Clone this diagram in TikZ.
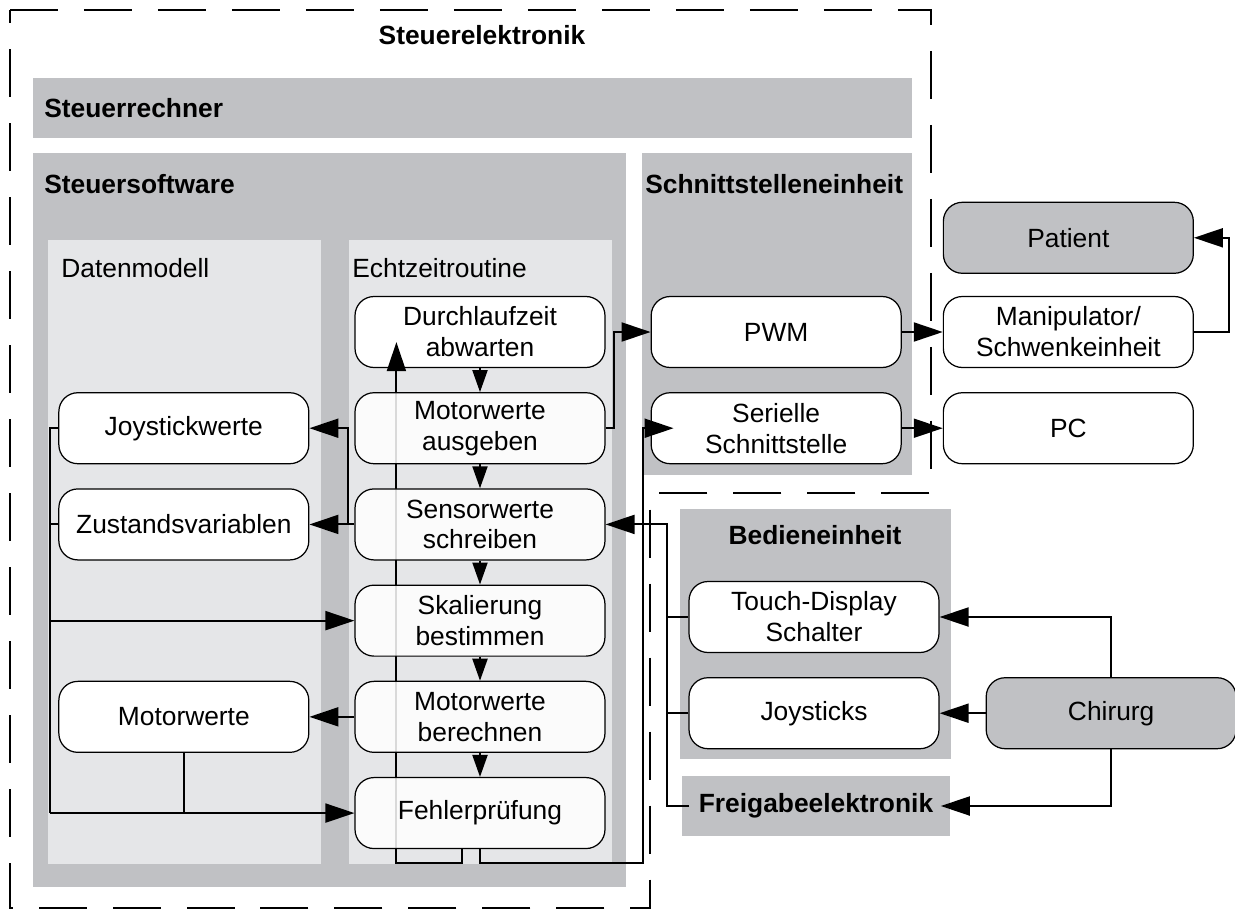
\documentclass[tikz,border=0pt]{standalone}
\usepackage{fontspec}
\setmainfont{Liberation Sans}
\usetikzlibrary{positioning,arrows.meta}

\definecolor{blockgray}{RGB}{192,193,196}
\definecolor{panelgray}{RGB}{229,230,232}

\pgfdeclarelayer{back}
\pgfdeclarelayer{wires}
\pgfsetlayers{back,wires,main}

\tikzset{
    block/.style={%
        draw, rounded corners=3.8mm,
        fill=white, line width=0.7pt,
        minimum width=5cm, minimum height=1.42cm,
        inner sep=2pt, align=center,
        font=\fontsize{15}{17.6}\selectfont
        },
    seethrough/.style={fill opacity=0.85, text opacity=1},
    heading/.style={inner sep=0pt, font=\fontsize{15}{17.6}\selectfont\bfseries},
    subheading/.style={inner sep=0pt, font=\fontsize{15}{17.6}\selectfont},
    wire/.style={line width=1.15pt},
    short/.style={-{Triangle[length=4.4mm,width=3mm]}},
    frame/.style={line width=1.5pt, dash pattern=on 9.6mm off 5.2mm},
    >={Triangle[length=5.8mm,width=3.8mm]}
}

\begin{document}
\begin{tikzpicture}[x=0.02cm, y=-0.02cm]

\useasboundingbox (0,0) rectangle (1235,910);

\begin{pgfonlayer}{back}
\fill[blockgray] (33,78) rectangle (912,138);
\fill[blockgray] (33,153) rectangle (626,887);
\fill[blockgray] (642,153) rectangle (912,475);
\fill[panelgray] (48,240) rectangle (321,864);
\fill[panelgray] (349,240) rectangle (612,864);
\fill[blockgray] (680,509) rectangle (951,759);
\end{pgfonlayer}

\node[heading] (elektronik) at (482,35) {Steuerelektronik};
\node[heading, anchor=west] (rechner) at (44,108) {Steuerrechner};
\node[heading, anchor=west] (software) at (44,184) {Steuersoftware};
\node[heading, anchor=west] (schnittstelle) at (645,184) {Schnittstelleneinheit};
\node[subheading, anchor=west] (datenmodell) at (61,268) {Datenmodell};
\node[subheading, anchor=west] (echtzeit) at (352,268) {Echtzeitroutine};
\node[heading] (bedien) at (815,535) {Bedieneinheit};

\node[block] (durch) at (480,332) {Durchlaufzeit\\abwarten};

\node[block, seethrough, below=4.8mm of durch] (ausgeben) {Motorwerte\\ausgeben};

\node[block, seethrough, below=4.8mm of ausgeben] (sensor) {Sensorwerte\\schreiben};

\node[block, seethrough, below=4.8mm of sensor] (skal) {Skalierung\\bestimmen};

\node[block, seethrough, below=4.8mm of skal] (berechnen) {Motorwerte\\berechnen};

\node[block, seethrough, below=4.8mm of berechnen] (fehler) {Fehlerprüfung};

\node[block, left=9mm of ausgeben] (joy) {Joystickwerte};
\node[block, below=4.8mm of joy] (zustand) {Zustandsvariablen};
\node[block, left=9mm of berechnen] (motor) {Motorwerte};

\node[block, right=9mm of durch] (pwm) {PWM};
\node[block, below=4.8mm of pwm] (seriell) {Serielle\\Schnittstelle};

\node[block, right=8.2mm of pwm] (manip) {Manipulator/\\Schwenkeinheit};
\node[block, below=4.8mm of manip] (pc) {PC};
\node[block, fill=blockgray, above=4.4mm of manip] (patient) {Patient};

\node[block] (touch) at (814,617) {Touch-Display\\Schalter};
\node[block, below=4.8mm of touch] (sticks) {Joysticks};
\node[block, fill=blockgray, right=9.2mm of sticks] (chirurg) {Chirurg};

\node[heading, fill=blockgray, minimum width=5.38cm, minimum height=1.2cm] (freigabe) at (816,806) {Freigabeelektronik};

% cycle of the real-time routine
\foreach \a/\b in {durch/ausgeben, ausgeben/sensor, sensor/skal, skal/berechnen, berechnen/fehler}
    \draw[wire, short] (\a) -- (\b);

\begin{pgfonlayer}{wires}
\draw[wire] ([xshift=-3.6mm]fehler.south) -- ++(0,14) -| ([xshift=8.4mm]durch.south west);
\end{pgfonlayer}
\draw[wire, ->] ([xshift=8.4mm]durch.south west) -- ([xshift=8.4mm, yshift=5.2mm]durch.south west);

\draw[wire, ->] (fehler.south) -- ++(0,14) -| ([xshift=-1.6mm]seriell.west) -- ([xshift=4.6mm]seriell.west);

\draw[wire, ->] (ausgeben.east) -- ++(8,0) |- (pwm.west);

% data model
\draw[wire, ->] (sensor.west) -- (zustand.east);
\draw[wire, ->] ([xshift=-1.2mm]sensor.west) |- (joy.east);
\draw[wire, ->] (berechnen.west) -- (motor.east);

\draw[wire] (joy.west) -- ++(-8,0) coordinate (bus) -- (bus |- fehler.west);
\draw[wire] (zustand.west) -- (zustand.west -| bus);
\draw[wire, ->] (bus |- skal.west) -- (skal.west);
\draw[wire, ->] (bus |- fehler.west) -- (fehler.west);
\draw[wire] (motor.south) -- (motor.south |- fehler.west);

% outputs
\draw[wire, ->] (pwm) -- (manip);
\draw[wire, ->] (seriell) -- (pc);
\draw[wire, ->] (manip.east) -- ++(35,0) |- (patient.east);

% operator side
\draw[wire, ->] ([xshift=1.6mm]freigabe.west) -| ([xshift=-4.2mm]touch.west) coordinate (inbus) |- (sensor.east);
\draw[wire] (touch.west) -- (inbus);
\draw[wire] (sticks.west) -- (sticks.west -| inbus);

\draw[wire, ->] (chirurg.north) |- (touch.east);
\draw[wire, ->] (chirurg.west) -- (sticks.east);
\draw[wire, ->] (chirurg.south) |- ([xshift=-2mm]freigabe.east);

\draw[frame] (10,10) -- (931,10) -- (931,493) -- (650,493) -- (650,908) -- (10,908) -- cycle;

\end{tikzpicture}
\end{document}
